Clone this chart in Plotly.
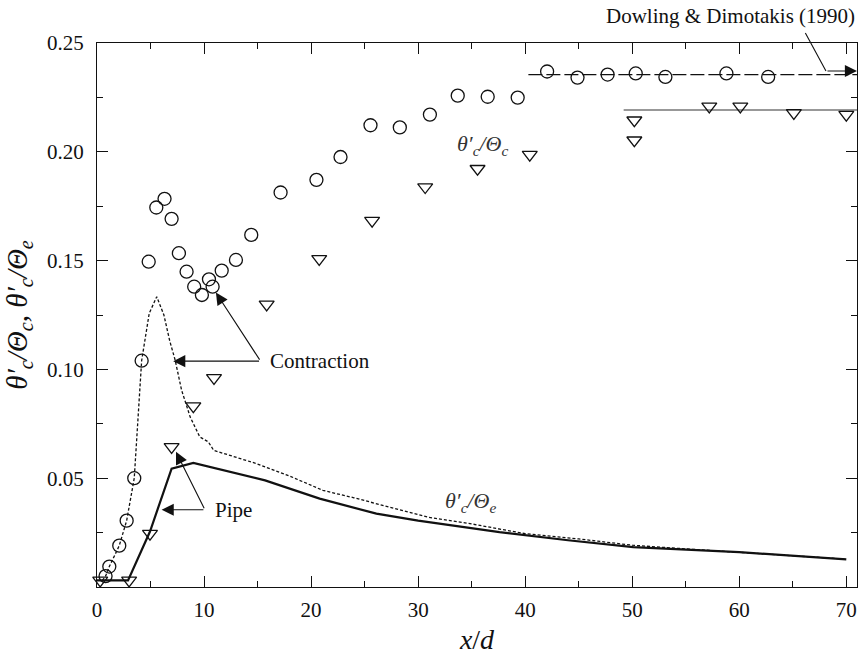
import plotly.graph_objects as go

# Contraction nozzle: centreline rms / centreline mean (circles)
contr_x = [0.8, 1.15, 2.08, 2.77, 3.48, 4.17, 4.83, 5.54, 6.31, 6.97, 7.65, 8.37, 9.08,
           9.80, 10.46, 10.8, 11.65, 12.98, 14.41, 17.15, 20.5, 22.75, 25.55, 28.29,
           31.1, 33.7, 36.5, 39.3, 42.05, 44.89, 47.7, 50.33, 53.1, 58.8, 62.7]
contr_y = [0.005, 0.0094, 0.019, 0.0305, 0.050, 0.104, 0.1495, 0.1744, 0.1784, 0.1692,
           0.1534, 0.1449, 0.138, 0.1342, 0.1414, 0.138, 0.1454, 0.1503, 0.1618, 0.1813,
           0.1871, 0.1976, 0.2122, 0.2112, 0.2171, 0.2258, 0.2253, 0.2249, 0.2369,
           0.2341, 0.2355, 0.236, 0.2344, 0.236, 0.2344]

# Pipe: centreline rms / centreline mean (triangles)
pipe_x = [0.3, 3.0, 4.95, 6.97, 9.0, 10.93, 15.85, 20.76, 25.7, 30.66, 35.55, 40.43,
          50.2, 50.2, 57.2, 60.1, 65.1, 70.0]
pipe_y = [0.003, 0.003, 0.0245, 0.0644, 0.0831, 0.0961, 0.1299, 0.1508, 0.1684, 0.1838,
          0.1922, 0.1987, 0.2145, 0.2053, 0.2209, 0.2209, 0.2179, 0.2171]

# Contraction nozzle: centreline rms / exit mean (dashed curve)
contr_e_x = [0.5, 0.8, 1.15, 2.08, 2.77, 3.48, 4.17, 4.88, 5.58, 6.25, 6.8, 7.3, 7.9,
             8.7, 9.6, 10.4, 10.9, 13.0, 14.9, 18.0, 21.1, 24.0, 27.4, 31.0, 35.0,
             40.0, 45.0, 50.0, 55.0, 60.0, 65.0, 70.0]
contr_e_y = [0.003, 0.005, 0.0094, 0.019, 0.0305, 0.050, 0.104, 0.1258, 0.1334, 0.125,
             0.113, 0.1043, 0.0905, 0.0782, 0.069, 0.0667, 0.0628, 0.0595, 0.0567, 0.051,
             0.0444, 0.041, 0.0367, 0.032, 0.029, 0.0245, 0.0221, 0.0192, 0.0175,
             0.016, 0.0145, 0.0128]

# Pipe: centreline rms / exit mean (solid curve)
pipe_e_x = [0.0, 2.9, 4.95, 6.97, 9.0, 12.0, 15.7, 20.8, 26.1, 30.0, 37.6, 44.0, 50.1,
            60.0, 70.0]
pipe_e_y = [0.003, 0.003, 0.0255, 0.0544, 0.057, 0.0535, 0.049, 0.0406, 0.0337, 0.0305,
            0.0252, 0.0215, 0.0183, 0.016, 0.0127]

# Far-field asymptotes (Dowling & Dimotakis 1990)
dd_contr_x = [40.3, 71.0]
dd_contr_y = [0.2355, 0.2355]
dd_pipe_x = [49.2, 71.0]
dd_pipe_y = [0.2192, 0.2192]

x_ticks = [0, 10, 20, 30, 40, 50, 60, 70]
y_ticks = [0.05, 0.10, 0.15, 0.20, 0.25]
y_tick_text = ["0.05", "0.10", "0.15", "0.20", "0.25"]

SERIF = "Liberation Serif"
INK = "#111111"

fig = go.Figure()

fig.add_trace(go.Scatter(x=dd_contr_x, y=dd_contr_y, mode="lines",
                         line=dict(color=INK, width=1.2, dash="14px,4px"),
                         showlegend=False, hoverinfo="skip"))
fig.add_trace(go.Scatter(x=dd_pipe_x, y=dd_pipe_y, mode="lines",
                         line=dict(color="#333333", width=1.2),
                         showlegend=False, hoverinfo="skip"))
fig.add_trace(go.Scatter(x=contr_e_x, y=contr_e_y, mode="lines",
                         line=dict(color=INK, width=1.3, dash="3px,2px"),
                         showlegend=False))
fig.add_trace(go.Scatter(x=pipe_e_x, y=pipe_e_y, mode="lines",
                         line=dict(color=INK, width=2.2),
                         showlegend=False))
fig.add_trace(go.Scatter(x=contr_x, y=contr_y, mode="markers", cliponaxis=False,
                         marker=dict(symbol="circle-open", size=13, color=INK,
                                     line=dict(color=INK, width=1.3)),
                         showlegend=False))
fig.add_trace(go.Scatter(x=pipe_x, y=pipe_y, mode="markers", cliponaxis=False,
                         marker=dict(symbol="triangle-down-open", size=13, color=INK,
                                     line=dict(color=INK, width=1.3)),
                         showlegend=False))


def arrow(x_head, y_head, x_tail, y_tail, head=2):
    fig.add_annotation(x=x_head, y=y_head, ax=x_tail, ay=y_tail,
                       xref="x", yref="y", axref="x", ayref="y",
                       text="", showarrow=True, arrowhead=head, arrowsize=2.2,
                       arrowwidth=1.1, arrowcolor=INK, standoff=0)


# Contraction call-out
arrow(7.12, 0.1038, 15.28, 0.1038)
arrow(11.11, 0.1353, 15.28, 0.1038)
fig.add_annotation(x=16.0, y=0.1038, xref="x", yref="y", text="Contraction",
                   showarrow=False, xanchor="left", yanchor="middle",
                   font=dict(family=SERIF, size=21, color=INK))

# Pipe call-out
arrow(6.04, 0.0355, 10.08, 0.0355)
arrow(7.38, 0.0621, 10.08, 0.0355)
fig.add_annotation(x=10.83, y=0.0355, xref="x", yref="y", text="Pipe",
                   showarrow=False, xanchor="left", yanchor="middle",
                   font=dict(family=SERIF, size=21, color=INK))

# Dowling & Dimotakis call-out (bent leader ending in an arrow)
arrow(68.1, 0.2371, 66.1, 0.2553, head=0)
arrow(71.0, 0.2371, 68.1, 0.2371)
fig.add_annotation(x=0.833, y=1.05, xref="paper", yref="paper",
                   text="Dowling & Dimotakis (1990)", showarrow=False,
                   xanchor="center", yanchor="middle",
                   font=dict(family=SERIF, size=21, color=INK))

# Curve labels
fig.add_annotation(x=36.0, y=0.2033, xref="x", yref="y",
                   text="<i>θ′<sub>c</sub>/Θ<sub>c</sub></i>", showarrow=False,
                   font=dict(family=SERIF, size=22, color="#333333"))
fig.add_annotation(x=34.9, y=0.0389, xref="x", yref="y",
                   text="<i>θ′<sub>c</sub>/Θ<sub>e</sub></i>", showarrow=False,
                   font=dict(family=SERIF, size=22, color="#333333"))

axis_common = dict(showgrid=False, zeroline=False, showline=True, linecolor=INK,
                   linewidth=1.3, mirror="ticks", ticks="inside", ticklen=11,
                   tickwidth=1.2, tickcolor=INK,
                   tickfont=dict(family=SERIF, size=21, color=INK))

fig.update_xaxes(range=[0, 71], tickvals=x_ticks, ticklabelstandoff=4,
                 minor=dict(dtick=5, tick0=0, ticks="inside", ticklen=6,
                            tickwidth=1.2, tickcolor=INK),
                 title=dict(text="<i>x</i>/<i>d</i>", standoff=8,
                            font=dict(family=SERIF, size=28, color=INK)),
                 **axis_common)
fig.update_yaxes(range=[0, 0.25], tickvals=y_ticks, ticktext=y_tick_text,
                 ticklabelstandoff=8,
                 minor=dict(dtick=0.025, tick0=0, ticks="inside", ticklen=6,
                            tickwidth=1.2, tickcolor=INK),
                 title=dict(text="<i>θ′<sub>c</sub>/Θ<sub>c</sub>, θ′<sub>c</sub>/Θ<sub>e</sub></i>",
                            standoff=10,
                            font=dict(family=SERIF, size=29, color=INK)),
                 **axis_common)

fig.update_layout(width=862, height=656, margin=dict(l=97, r=5, t=43, b=69),
                  plot_bgcolor="white", paper_bgcolor="white", showlegend=False,
                  font=dict(family=SERIF, color=INK))

fig.write_html("out.html")
